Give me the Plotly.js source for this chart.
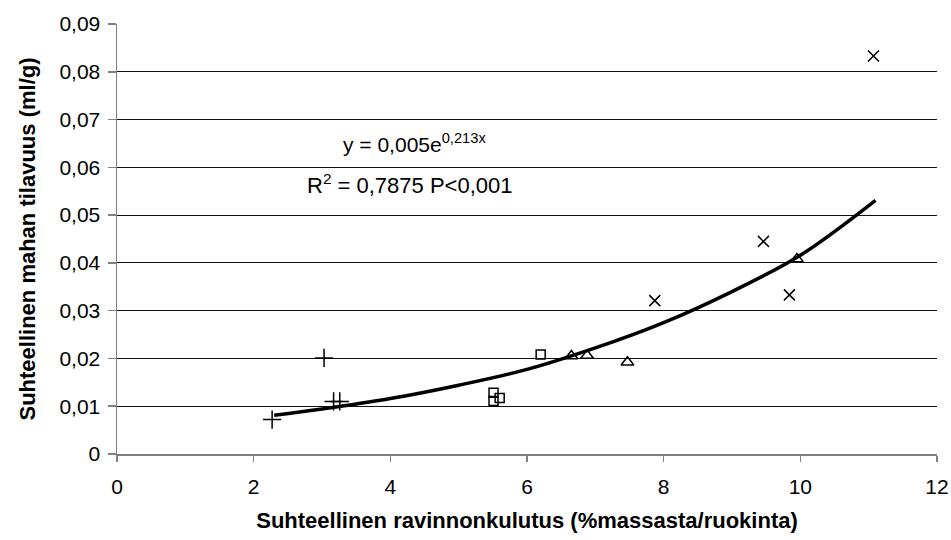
<!DOCTYPE html>
<html>
<head>
<meta charset="utf-8">
<script src="https://cdn.plot.ly/plotly-3.0.1.min.js"></script>
<style>html,body{margin:0;padding:0;background:#fff;}#chart{width:951px;height:540px;}</style>
</head>
<body>
<div id="chart"></div>
<script>
// Group 1 (+)
const plusX = [2.27, 3.03, 3.17, 3.26];
const plusY = [0.0072, 0.0201, 0.0110, 0.0110];
// Group 2 (squares)
const squareX = [5.51, 5.51, 5.60, 6.20];
const squareY = [0.0128, 0.0111, 0.0117, 0.0208];
// Group 3 (triangles)
const triX = [6.65, 6.88, 7.47, 9.95];
const triY = [0.0205, 0.0206, 0.0192, 0.0408];
// Group 4 (x)
const crossX = [7.87, 9.46, 9.84, 11.07];
const crossY = [0.0321, 0.0445, 0.0333, 0.0833];
// Trend line
const trendX = [2.3, 3.0, 4.0, 5.0, 6.0, 7.0, 8.0, 9.0, 10.0, 11.1];
const trendY = [0.0081, 0.0094, 0.0116, 0.0144, 0.0177, 0.0222, 0.0275, 0.0340, 0.0416, 0.0531];
// Ticks
const xTicks = [0, 2, 4, 6, 8, 10, 12];
const yTickVals = [0, 0.01, 0.02, 0.03, 0.04, 0.05, 0.06, 0.07, 0.08, 0.09];
const yTickText = ["0", "0,01", "0,02", "0,03", "0,04", "0,05", "0,06", "0,07", "0,08", "0,09"];
const xTitle = "Suhteellinen ravinnonkulutus (%massasta/ruokinta)";
const yTitle = "Suhteellinen mahan tilavuus (ml/g)";
const eqText = "y = 0,005e<sup>0,213x</sup>";
const r2Text = "R<sup>2</sup> = 0,7875 P&lt;0,001";

const F = "Liberation Sans, Arial, sans-serif";
const mk = (sym, size) => ({symbol: sym, size: size, color: "#000", line: {color: "#000", width: 1.5}});

const data = [
  {x: trendX, y: trendY, mode: "lines", line: {color: "#000", width: 3.5, shape: "spline"}, hoverinfo: "skip"},
  {x: plusX, y: plusY, mode: "markers", marker: mk("cross-thin-open", 13)},
  {x: squareX, y: squareY, mode: "markers", marker: mk("square-open", 9)},
  {x: triX, y: triY, mode: "markers", marker: mk("triangle-up-open", 11)},
  {x: crossX, y: crossY, mode: "markers", marker: mk("x-thin-open", 11)}
];

const layout = {
  width: 951, height: 540,
  margin: {l: 117, r: 14, t: 24, b: 86},
  paper_bgcolor: "#fff", plot_bgcolor: "#fff",
  showlegend: false,
  font: {family: F, color: "#000"},
  xaxis: {
    range: [0, 12], tickvals: xTicks, ticktext: xTicks.map(String),
    showgrid: false, zeroline: false, showline: true, linecolor: "#808080", linewidth: 1.5,
    ticks: "outside", ticklen: 6, tickcolor: "#808080", tickwidth: 1.5,
    tickfont: {family: F, size: 21, color: "#000"}, ticklabelstandoff: 7,
    title: {text: "<b>" + xTitle + "</b>", font: {family: F, size: 22, color: "#000"}, standoff: 16}
  },
  yaxis: {
    range: [0, 0.09], tickvals: yTickVals, ticktext: yTickText,
    showgrid: true, gridcolor: "#111", gridwidth: 1, zeroline: false,
    showline: true, linecolor: "#808080", linewidth: 1.5,
    ticks: "outside", ticklen: 8, tickcolor: "#808080", tickwidth: 1.5,
    tickfont: {family: F, size: 21, color: "#000"}, ticklabelstandoff: 3,
    title: {text: "<b>" + yTitle + "</b>", font: {family: F, size: 22, color: "#000"}, standoff: 17}
  },
  annotations: [
    {text: eqText, xref: "paper", yref: "paper", x: (414 - 117) / 820, y: (454 - 143) / 430, xanchor: "center", yanchor: "middle", showarrow: false, font: {family: F, size: 21, color: "#000"}},
    {text: r2Text, xref: "paper", yref: "paper", x: (305 - 117) / 820, y: (454 - 184) / 430, xanchor: "left", yanchor: "middle", showarrow: false, font: {family: F, size: 22, color: "#000"}}
  ]
};

Plotly.newPlot("chart", data, layout, {displayModeBar: false, staticPlot: true});
</script>
</body>
</html>
